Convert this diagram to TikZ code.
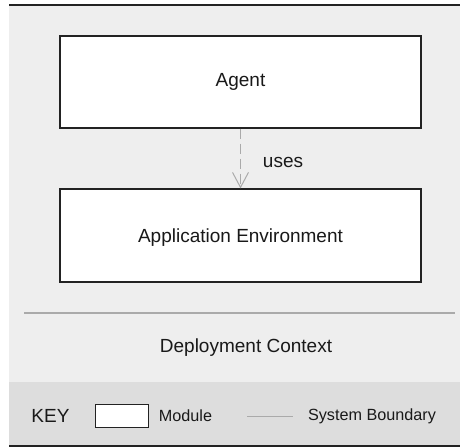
\documentclass[tikz,border=0pt]{standalone}
\usepackage{fontspec}
\setmainfont{Liberation Sans}
\usetikzlibrary{arrows.meta}
\definecolor{panel}{HTML}{EEEEEE}
\definecolor{keybg}{HTML}{DDDDDD}
\definecolor{edge}{HTML}{222222}
\definecolor{soft}{HTML}{AAAAAA}
\tikzset{
  module/.style={draw=edge, line width=1.1bp, fill=white, inner sep=0pt},
  lbl/.style={inner sep=0pt, font=\fontsize{19bp}{22bp}\selectfont, text=black!90},
  keylbl/.style={inner sep=0pt, font=\fontsize{16.2bp}{19bp}\selectfont, text=black!90},
  boundary/.style={draw=soft, line width=1.3bp},
  usesarrow/.style={draw=soft, line width=1bp, dash pattern=on 10bp off 5bp,
    -{Straight Barb[length=15bp,width=16bp,line width=1bp]}},
}
\begin{document}
\begin{tikzpicture}[x=1bp,y=-1bp]
\useasboundingbox (0,0) rectangle (460,448);
\fill[white] (0,0) rectangle (460,448);
\fill[panel] (9,5) rectangle (460,382);
\fill[keybg] (9,382) rectangle (460,446);
\draw[edge, line width=1.4bp] (9,5) -- (460,5);
\draw[edge, line width=1.4bp] (9,446) -- (460,446);

\node[module, minimum width=361bp, minimum height=92bp] (agent) at (240.5,82) {};
\node[lbl] (agenttxt) at (240.5,82) {Agent};
\node[module, minimum width=361bp, minimum height=93bp] (app) at (240.5,235.5) {};
\node[lbl] (apptxt) at (240.5,238) {Application Environment};

\draw[usesarrow] (agent.south) -- (app.north);
\node[lbl] (uses) at (283,162) {uses};

\coordinate (sepL) at (24,313);
\coordinate (sepR) at (455,313);
\draw[boundary] (sepL) -- (sepR);
\node[lbl] (ctx) at (246,348) {Deployment Context};

\node[lbl] (key) at (50.5,416) {KEY};
\node[module, line width=0.9bp, minimum width=53bp, minimum height=23bp] (keybox) at (121.5,415.5) {};
\node[keylbl] (keymod) at (185.5,416) {Module};
\coordinate (klA) at (247,416);
\coordinate (klB) at (293,416);
\draw[boundary, line width=1bp] (klA) -- (klB);
\node[keylbl] (keysb) at (372,416) {System Boundary};
\end{tikzpicture}
\end{document}
